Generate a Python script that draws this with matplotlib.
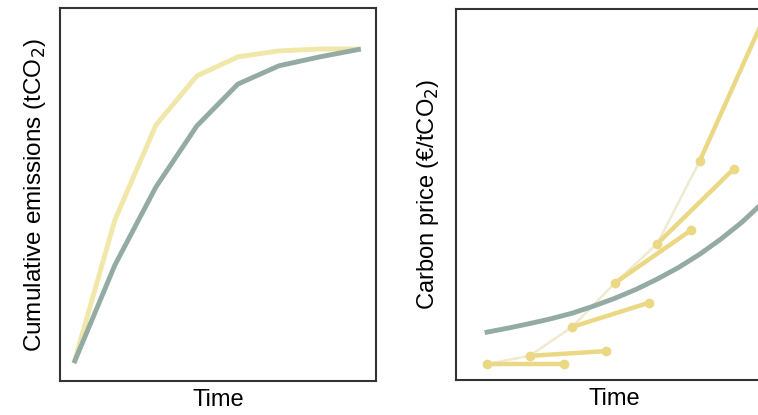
import numpy as np
import matplotlib
matplotlib.use('Agg')
import matplotlib.pyplot as plt
from matplotlib import rcParams
rcParams['font.family'] = ['Liberation Sans', 'DejaVu Sans']

# Left panel: cumulative emissions over time (arbitrary units)
t_left = [0, 1, 2, 3, 4, 5, 6, 7]
emis_yellow = [4.8, 43.2, 68.6, 81.8, 86.9, 88.5, 89.0, 89.0]
emis_green = [4.8, 31.1, 52.0, 68.4, 79.6, 84.5, 86.9, 89.0]

# Right panel: carbon price, smooth path and short-sighted segments
t_green = [0.0, 0.5, 1.0, 1.5, 2.0, 2.5, 3.0, 3.5, 4.0, 4.5, 5.0, 5.5, 6.0, 6.4, 6.8]
price_green = [12.9, 14.0, 15.2, 16.5, 18.0, 19.9, 22.0, 24.4, 27.2, 30.3, 33.9, 38.0, 42.6, 46.9, 51.6]
seg_start_t = [0, 1, 2, 3, 4, 5]
seg_end_t = [1.8, 2.8, 3.8, 4.8, 5.8, 6.8]
seg_start_p = [4.3, 6.5, 14.3, 26.1, 36.7, 59.0]
seg_end_p = [4.3, 7.8, 20.8, 40.4, 56.9, 105.0]

yellow = '#ebd885'
yellow_pale = '#f1e7a8'
faded = '#f0ead0'
green = '#94aba3'
spine_col = '#333333'

fig = plt.figure(figsize=(7.58, 4.15), dpi=100)
W, H = 758.0, 415.0
ax1 = fig.add_axes([60 / W, 1 - 381 / H, 316 / W, 373 / H])
ax2 = fig.add_axes([456 / W, 1 - 380 / H, 316 / W, 371 / H])

ax1.plot(t_left, emis_yellow, color=yellow_pale, lw=3.5, solid_capstyle='butt', zorder=2)
ax1.plot(t_left, emis_green, color=green, lw=3.5, solid_capstyle='butt', zorder=3)
ax1.set_xlim(-0.34, 7.37)
ax1.set_ylim(0, 100)
ax1.set_xlabel('Time', fontsize=17, labelpad=6)
ax1.set_ylabel('Cumulative emissions (tCO$_2$)', fontsize=17.5, labelpad=9)

ax2.plot(seg_start_t, seg_start_p, color=faded, lw=1.8, zorder=1)
for i in range(len(seg_start_t)):
    ax2.plot([seg_start_t[i], seg_end_t[i]], [seg_start_p[i], seg_end_p[i]],
             color=yellow, lw=3.2, marker='o', ms=6, zorder=2)
ax2.plot(t_green, price_green, color=green, lw=3.5, zorder=3)
ax2.set_xlim(-0.73, 6.7)
ax2.set_ylim(0, 100)
ax2.set_xlabel('Time', fontsize=17, labelpad=6)
ax2.set_ylabel('Carbon price (€/tCO$_2$)', fontsize=17, labelpad=11)

for ax in (ax1, ax2):
    ax.set_xticks([])
    ax.set_yticks([])
    for s in ax.spines.values():
        s.set_color(spine_col)
        s.set_linewidth(1.5)

fig.savefig('out.png', dpi=100)
